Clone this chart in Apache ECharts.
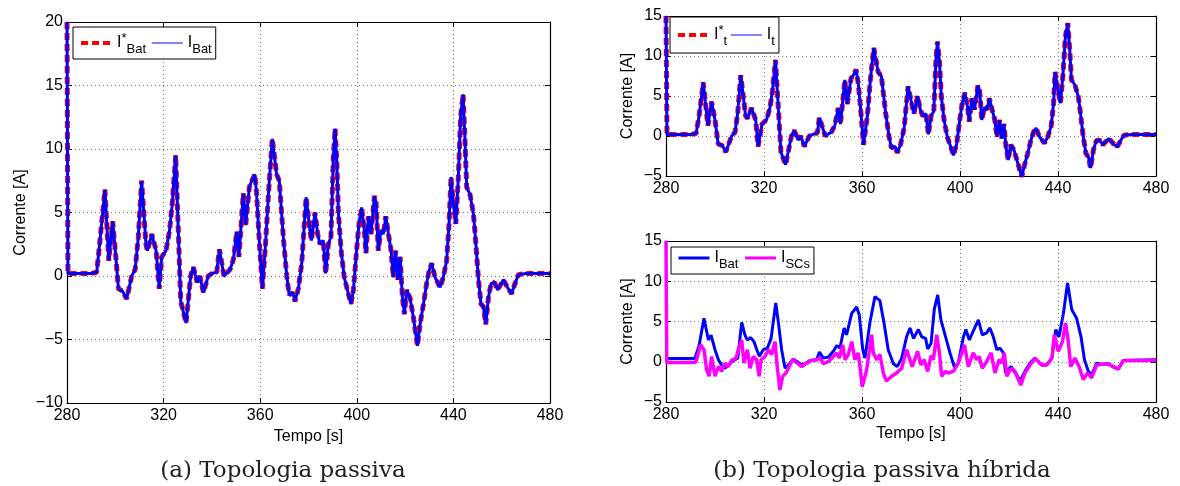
<!DOCTYPE html>
<html>
<head>
<meta charset="utf-8">
<title>Corrente - topologias</title>
<script src="https://cdn.jsdelivr.net/npm/echarts@6/dist/echarts.min.js"></script>
<style>
  html, body { margin: 0; padding: 0; background: #fff; }
  #chart { width: 1180px; height: 486px; }
</style>
</head>
<body>
<div id="chart"></div>
<script>
// eixos (ticks)
const tempoTicks = [280, 320, 360, 400, 440, 480]
const correnteTicksA = [-10, -5, 0, 5, 10, 15, 20]
const correnteTicksB = [-5, 0, 5, 10, 15]

// (a) topologia passiva: [tempo s, corrente A] — I*Bat e IBat praticamente iguais
const iBatPassiva = [
  [280, 20], [280.4, 0.2], [285, 0.2], [290, 0.2], [292.3, 0.3], [293.5, 2.5], [295.7, 6.8],
  [297.3, 1.2], [298.9, 4.3], [300, 2.0], [301.3, -1.0], [303, -1.2], [304.7, -1.8], [306.8, 0],
  [308.2, 0.5], [309.5, 3.0], [310.9, 7.5], [312.7, 2.5], [313.3, 2.0], [315.1, 3.3], [316.9, 2.0],
  [318.2, -1.0], [319.2, 1.5], [321, 2.0], [322.4, 3.5], [323.5, 5.5], [325, 9.5], [327.1, -2.0],
  [329.3, -3.7], [331.2, 0], [332.3, 0.7], [333.9, -0.5], [335, 0], [336.5, -1.3], [338.5, 0],
  [340, 0.2], [342, 0.3], [343.1, 2.1], [345, 0], [347.5, 0.5], [348.9, 1.3], [350.3, 3.5],
  [351.2, 1.5], [353, 6.5], [354, 4.0], [355.5, 7.0], [356.5, 7.5], [357.8, 8.0], [358.5, 6.5],
  [359.6, 2.8], [360.9, -1.0], [362.2, 2.5], [363.6, 7.0], [365, 10.8], [366.8, 8.0], [367.9, 7.5],
  [369.6, 3.0], [371, 0], [372, -1.5], [373.5, -1.3], [374.4, -2.0], [375.8, -1.0], [377.2, 1.0],
  [379, 6.2], [380.6, 3.6], [381.2, 2.8], [382.7, 5.0], [383.8, 3.3], [384.8, 2.5], [386.1, 2.8],
  [387.1, 0.2], [388.2, 2.5], [389.3, 3.1], [390.3, 9.4], [391, 11.6], [391.7, 9.1], [392.4, 4.9],
  [393.5, 2.0], [394.8, -0.1], [396.5, -1.4], [397.6, -2.2], [398.6, -1.1], [399.9, 2.0], [400.9, 4.1],
  [402, 5.4], [403.1, 3.6], [403.8, 1.8], [404.8, 4.7], [405.9, 3.3], [407.3, 6.3], [408, 5.7],
  [408.9, 2.0], [410, 3.6], [411, 3.3], [412, 4.7], [413.1, 3.3], [414.2, 2.0], [415.1, -0.1],
  [416.1, 2.0], [417, -0.3], [417.9, 1.5], [418.9, -1.7], [419.7, -3.0], [420.7, -1.1], [422, -1.7],
  [423.4, -3.2], [425.1, -5.5], [426.2, -3.8], [427.6, -2.2], [428.9, -0.6], [429.9, 0.4], [431, 1.0],
  [432.4, -0.1], [434.5, -0.9], [435.8, -0.1], [437.2, 1.2], [438.2, 4.1], [439, 7.8], [440, 5.7],
  [441, 4.1], [442, 7.6], [443, 12.6], [444, 14.3], [444.8, 10.7], [445.5, 7.0], [446.9, 6.4],
  [448.3, 4.9], [449.2, 2.8], [450.3, -0.1], [451.4, -2.2], [452.4, -2.4], [453.4, -3.8], [454.5, -1.7],
  [455.6, -0.6], [457, -0.5], [458.3, -1.1], [460.7, -0.3], [462.7, -1.0], [464.1, -1.4], [465.5, -0.6],
  [466.9, 0.1], [470, 0.2], [475, 0.2], [480, 0.2]
]

// (b) topologia passiva hibrida, corrente total I*t / It
const iTotalHibrida = [
  [280, 15], [280.4, 0.2], [285, 0.2], [290, 0.2], [292.3, 0.3], [293.5, 2.5], [295.2, 6.7],
  [297.1, 1.3], [298.6, 4.3], [300, 2.0], [301.3, -1.0], [303, -1.2], [304.4, -2.0], [306.8, 0],
  [308.2, 0.5], [309.3, 3.0], [310.5, 7.6], [312.5, 2.5], [313.3, 2.2], [314.9, 3.5], [316.6, 2.0],
  [317.6, -1.3], [319.2, 1.5], [321, 2.0], [322.4, 3.5], [323.4, 5.5], [324.7, 9.5], [326.9, -2.0],
  [328.8, -3.6], [331.2, 0], [332.3, 0.7], [333.9, -0.5], [335, 0], [336.5, -1.3], [338.5, 0],
  [340, 0.2], [341.8, 0.4], [342.6, 2.3], [345, 0], [347.5, 0.5], [348.9, 1.3], [350.3, 3.5],
  [351.2, 1.5], [353, 7.0], [354, 4.0], [355.5, 7.2], [356.5, 7.6], [357.6, 8.3], [358.5, 6.5],
  [359.6, 2.8], [360.6, -1.1], [362.2, 2.5], [363.4, 7.0], [364.8, 11.0], [366.6, 8.0], [367.9, 7.5],
  [369.6, 3.0], [371, 0], [372, -1.5], [373.5, -1.3], [374.4, -2.1], [375.8, -1.0], [377.2, 1.0],
  [378.8, 6.2], [380.6, 3.6], [381.2, 2.8], [382.7, 5.0], [383.8, 3.3], [384.8, 2.5], [386.1, 2.8],
  [387.1, 0.2], [388.2, 2.5], [389.3, 3.1], [390.2, 9.6], [390.8, 11.8], [391.6, 9.3], [392.4, 4.9],
  [393.5, 2.0], [394.8, -0.1], [396.5, -1.6], [397.3, -2.4], [398.6, -1.1], [399.9, 2.0], [400.9, 4.1],
  [402, 5.4], [403.1, 3.6], [403.8, 1.8], [404.8, 4.7], [405.9, 3.3], [407.3, 6.3], [408, 5.7],
  [408.9, 2.0], [410, 3.6], [411, 3.3], [412, 4.7], [413.1, 3.3], [414.2, 2.0], [415.1, -0.1],
  [416.1, 2.0], [417, -0.3], [417.9, 1.5], [418.9, -1.7], [419.7, -3.0], [420.7, -1.1], [422, -1.7],
  [423.4, -3.2], [425.2, -5.1], [426.2, -3.8], [427.6, -2.2], [428.9, -0.6], [429.9, 0.4], [431, 1.0],
  [432.4, -0.1], [434.5, -0.9], [435.8, -0.1], [437.2, 1.2], [438.2, 4.1], [438.8, 8.0], [440, 5.7],
  [441, 4.1], [442, 7.6], [443, 12.4], [444, 14.1], [444.8, 10.7], [445.5, 7.0], [446.9, 6.4],
  [448.3, 4.9], [449.2, 2.8], [450.3, -0.1], [451.4, -2.2], [452.4, -2.6], [453.3, -4.0], [454.5, -1.7],
  [455.6, -0.6], [457, -0.5], [458.3, -1.1], [460.7, -0.3], [462.7, -1.0], [464.1, -1.4], [465.5, -0.6],
  [466.9, 0.1], [470, 0.2], [475, 0.2], [480, 0.2]
]

// (b) IBat da topologia hibrida
const iBatHibrida = [
  [280, 0.4], [285, 0.4], [291.8, 0.4], [293.5, 2.0], [295.5, 5.4], [297.3, 2.7], [298.4, 3.3],
  [300, 1.5], [301.4, 0.25], [302.7, -0.4], [304.1, -0.8], [305.4, -0.4], [307.5, 0.15], [309.3, 0.45],
  [310.9, 4.9], [312.2, 3.35], [313.2, 2.7], [314.6, 3.0], [315.9, 2.5], [317.3, 1.3], [318.1, 0.7],
  [319.7, 1.5], [321.4, 1.7], [322.9, 2.9], [324.8, 7.3], [325.9, 4.8], [327.2, 1.5], [328.6, -0.8],
  [329.9, -0.4], [332, 0.3], [333.3, 0.05], [335.4, -0.4], [336.7, -0.25], [338.8, 0.17], [341.5, 0.25],
  [342.6, 1.2], [344.2, 0.45], [346.3, 0.6], [348.3, 1.3], [349.7, 2.0], [351, 1.7], [352.7, 4.2],
  [353.7, 3.35], [355.8, 6.0], [357.8, 6.8], [358.9, 5.8], [360.3, 1.5], [361.2, 0.45], [363.3, 5.0],
  [365.3, 8.1], [367.3, 7.6], [369, 4.8], [370.7, 1.5], [372.8, -0.25], [374.4, -0.6], [376.2, 0.45],
  [378.2, 3.1], [379.6, 4.2], [381, 2.9], [383, 4.0], [384.4, 3.1], [386, 2.9], [386.8, 1.6],
  [388.2, 2.3], [389.5, 6.5], [390.9, 8.3], [392.2, 5.2], [393.9, 3.35], [395.9, 1.1], [397.7, -0.66],
  [399.3, -0.17], [401.4, 3.1], [402.4, 4.0], [403.8, 2.7], [405.4, 3.8], [407.5, 5.2], [409.1, 3.35],
  [410.9, 3.6], [412.2, 4.2], [413.6, 3.1], [415, 1.5], [416.3, 1.7], [417.7, 1.1], [418.6, -1.4],
  [420.8, -0.6], [422.4, -1.2], [424.5, -2.4], [426.5, -1.2], [428.6, -0.17], [430.6, 0.45], [433.3, -0.4],
  [435.4, -0.4], [437.5, 0.45], [439.1, 4.0], [440.4, 3.1], [442.2, 6.0], [443.9, 9.8], [445.6, 6.5],
  [447.6, 5.4], [449.4, 3.1], [450.8, 0.25], [452.4, -1.2], [453.8, -1.6], [455.8, -0.17], [457.8, -0.3],
  [460.5, -0.25], [462.6, -0.66], [464.6, -0.9], [466.7, 0.17], [480, 0.25]
]

// (b) ISCs da topologia hibrida
const iSCsHibrida = [
  [280, 15], [280.3, -0.1], [285, -0.1], [291.8, -0.1], [292.5, 0.25], [294.1, 2.1], [295.5, 1.5],
  [296.6, -1.0], [297.6, -1.8], [298.6, 0.66], [300, -1.8], [301.4, -0.6], [302.7, -1.2], [304.1, -0.17],
  [305.4, -0.6], [306.8, 0.17], [308.6, 0.45], [309.5, 1.5], [310.9, 2.7], [311.8, -0.17], [313.2, 1.5],
  [314.3, -0.8], [315.6, 0.66], [317, 0.25], [318, -1.8], [318.8, 0.25], [320.4, 0.66], [321.8, 1.5],
  [323.1, 0.9], [324.5, 2.5], [325.4, -0.6], [326.5, -3.5], [327.6, -1.8], [329, -1.4], [330.6, -0.4],
  [331.7, 0.3], [333.3, -0.1], [335.4, -0.6], [337.4, -0.17], [339.5, 0.17], [341.5, 0.25], [342.9, 0.45],
  [344.2, -0.25], [346.3, 0.04], [348.3, 0.66], [349.7, 1.1], [350.7, 0.45], [352.1, 2.1], [353.1, 0.25],
  [354.4, 0.9], [355.8, 2.5], [357.1, 0.25], [358.5, 1.1], [360.1, -3.1], [361.9, -1.0], [363.9, 3.35],
  [364.6, 1.1], [366, 0.25], [367.3, 0.9], [368.7, -1.4], [370, -2.4], [372.1, -1.8], [374.1, -1.4],
  [376.2, -0.8], [378.2, 1.5], [378.9, 1.7], [380.5, -0.6], [382.7, 1.3], [384, -0.4], [385.4, 0.25],
  [386.8, -1.2], [388.2, 0.75], [389.1, 0.25], [390.5, 3.35], [391.6, 1.1], [392.5, -1.8], [393.9, -1.2],
  [395.2, -1.4], [397.3, -1.2], [399.3, -0.17], [401.8, 2.1], [403.4, -0.6], [405.4, 1.1], [406.8, 0.25],
  [407.8, 0.66], [409.1, -0.8], [410.9, 0.04], [412.7, 1.1], [414.3, -1.4], [415.9, 0.25], [417, -0.17],
  [418.1, 1.1], [419.1, -1.8], [420.8, -0.8], [422.7, -1.4], [424.8, -2.9], [426.5, -1.4], [428.6, -0.4],
  [430.6, 0.45], [433.3, -0.4], [435.4, -0.4], [437.5, 0.45], [438.5, 3.35], [440.1, 1.3], [441.8, 2.5],
  [443.1, 4.8], [444.2, 2.5], [445.2, -0.6], [446.9, 0.45], [448.6, -0.6], [450.3, -2.2], [452.1, -1.4],
  [453.7, -2.0], [455.8, -0.4], [457.8, -0.3], [460.5, -0.3], [462.6, -0.6], [464.6, -0.9], [466.7, 0.17],
  [480, 0.17]
]

const FONT = 'Liberation Sans'
const chart = echarts.init(document.getElementById('chart'))

const minus = function (v) { return String(v).replace('-', '\u2212') }

function xAxes(grid, showName) {
  const base = {
    type: 'value', gridIndex: grid,
    min: tempoTicks[0], max: tempoTicks[tempoTicks.length - 1],
    interval: tempoTicks[1] - tempoTicks[0],
    axisLine: { show: true, onZero: false, lineStyle: { color: '#000', width: 1.2 } },
    axisTick: { show: true, inside: true, length: 5, lineStyle: { color: '#000' } }
  }
  return [
    Object.assign({}, base, {
      position: 'bottom',
      name: showName ? 'Tempo [s]' : '',
      nameLocation: 'middle', nameGap: 24,
      nameTextStyle: { fontFamily: FONT, fontSize: 16, color: '#000' },
      axisLabel: { show: true, margin: 5, fontFamily: FONT, fontSize: 16, color: '#000',
        showMinLabel: true, showMaxLabel: true },
      splitLine: { show: true, lineStyle: { color: '#777', type: [1, 3], width: 1 } }
    }),
    Object.assign({}, base, {
      position: 'top', axisLabel: { show: false }, splitLine: { show: false }
    })
  ]
}

function yAxes(grid, ticks, gap) {
  const base = {
    type: 'value', gridIndex: grid,
    min: ticks[0], max: ticks[ticks.length - 1], interval: ticks[1] - ticks[0],
    axisLine: { show: true, onZero: false, lineStyle: { color: '#000', width: 1.2 } },
    axisTick: { show: true, inside: true, length: 5, lineStyle: { color: '#000' } }
  }
  return [
    Object.assign({}, base, {
      position: 'left',
      name: 'Corrente [A]', nameLocation: 'middle', nameGap: gap,
      nameTextStyle: { fontFamily: FONT, fontSize: 16, color: '#000' },
      axisLabel: { show: true, margin: 4, fontFamily: FONT, fontSize: 16, color: '#000',
        formatter: minus, showMinLabel: true, showMaxLabel: true },
      splitLine: { show: true, lineStyle: { color: '#777', type: [1, 3], width: 1 } }
    }),
    Object.assign({}, base, {
      position: 'right', axisLabel: { show: false }, splitLine: { show: false }
    })
  ]
}

const legendNames = {
  refA: '{m|I}{sup|*}{sub|Bat}',
  batA: '{m|I}{sub|Bat}',
  refT: '{m|I}{sup|*}{sub|t}',
  itT: '{m|I}{sub|t}',
  batH: '{m|I}{sub|Bat}',
  scH: '{m|I}{sub|SCs}'
}

const legendText = {
  fontFamily: FONT, color: '#000',
  rich: {
    m: { fontFamily: FONT, fontSize: 16, color: '#000', lineHeight: 26, verticalAlign: 'middle' },
    sup: { fontFamily: FONT, fontSize: 13, color: '#000', lineHeight: 26, verticalAlign: 'top', padding: [2, 0, 0, 0] },
    sub: { fontFamily: FONT, fontSize: 13, color: '#000', lineHeight: 26, verticalAlign: 'bottom' }
  }
}

function legend(left, top, items, gap, padV) {
  return {
    left: left, top: top, orient: 'horizontal', selectedMode: false,
    itemWidth: 31, itemHeight: 12, itemGap: gap,
    padding: [padV, 4, padV, 6],
    backgroundColor: '#fff', borderColor: '#000', borderWidth: 1, borderRadius: 0,
    itemStyle: { opacity: 0 },
    formatter: function (name) { return legendNames[name] },
    textStyle: legendText,
    data: items
  }
}

function serie(name, data, xi, color, width, dashed, z) {
  return {
    name: name, type: 'line', data: data,
    xAxisIndex: xi, yAxisIndex: xi,
    symbol: 'none', showSymbol: false, clip: true, z: z,
    lineStyle: { color: color, width: width, type: dashed ? [7, 4] : 'solid' },
    itemStyle: { color: color },
    emphasis: { disabled: true },
    animation: false
  }
}

chart.setOption({
  backgroundColor: '#fff',
  animation: false,
  grid: [
    { left: 67, top: 22, width: 483, height: 381, show: true, borderColor: '#000', borderWidth: 0, outerBoundsMode: 'none' },
    { left: 666, top: 16, width: 490, height: 160, show: true, borderColor: '#000', borderWidth: 0, outerBoundsMode: 'none' },
    { left: 666, top: 241, width: 490, height: 161, show: true, borderColor: '#000', borderWidth: 0, outerBoundsMode: 'none' }
  ],
  xAxis: [].concat(xAxes(0, true), xAxes(1, false), xAxes(2, true)),
  yAxis: [].concat(yAxes(0, correnteTicksA, 38), yAxes(1, correnteTicksB, 30), yAxes(2, correnteTicksB, 30)),
  legend: [
    legend(73, 27, [
      { name: 'refA', lineStyle: { color: '#ff0000', width: 4, type: [7, 4] } },
      { name: 'batA', lineStyle: { color: '#5a5aff', width: 1.5, type: 'solid' } }
    ], 5, 3),
    legend(670, 17, [
      { name: 'refT', lineStyle: { color: '#ff0000', width: 4, type: [7, 4] } },
      { name: 'itT', lineStyle: { color: '#5a5aff', width: 1.5, type: 'solid' } }
    ], 3, 5),
    legend(671, 247, [
      { name: 'batH', lineStyle: { color: '#0000ff', width: 3, type: 'solid' } },
      { name: 'scH', lineStyle: { color: '#ff00ff', width: 3, type: 'solid' } }
    ], 5, 3)
  ],
  series: [
    serie('refA', iBatPassiva, 0, '#ff0000', 5, true, 2),
    serie('batA', iBatPassiva, 0, '#0000ff', 3, false, 3),
    serie('refT', iTotalHibrida, 2, '#ff0000', 5, true, 2),
    serie('itT', iTotalHibrida, 2, '#0000ff', 3, false, 3),
    serie('batH', iBatHibrida, 4, '#0000ff', 3, false, 2),
    serie('scH', iSCsHibrida, 4, '#ff00ff', 3.5, false, 3)
  ],
  graphic: [
    { type: 'text', x: 283, y: 471, style: { text: '(a) Topologia passiva', font: '23px "DejaVu Serif"', fill: '#222', align: 'center', verticalAlign: 'middle' } },
    { type: 'text', x: 882, y: 471, style: { text: '(b) Topologia passiva h\u00edbrida', font: '23px "DejaVu Serif"', fill: '#222', align: 'center', verticalAlign: 'middle' } }
  ]
})
</script>
</body>
</html>
